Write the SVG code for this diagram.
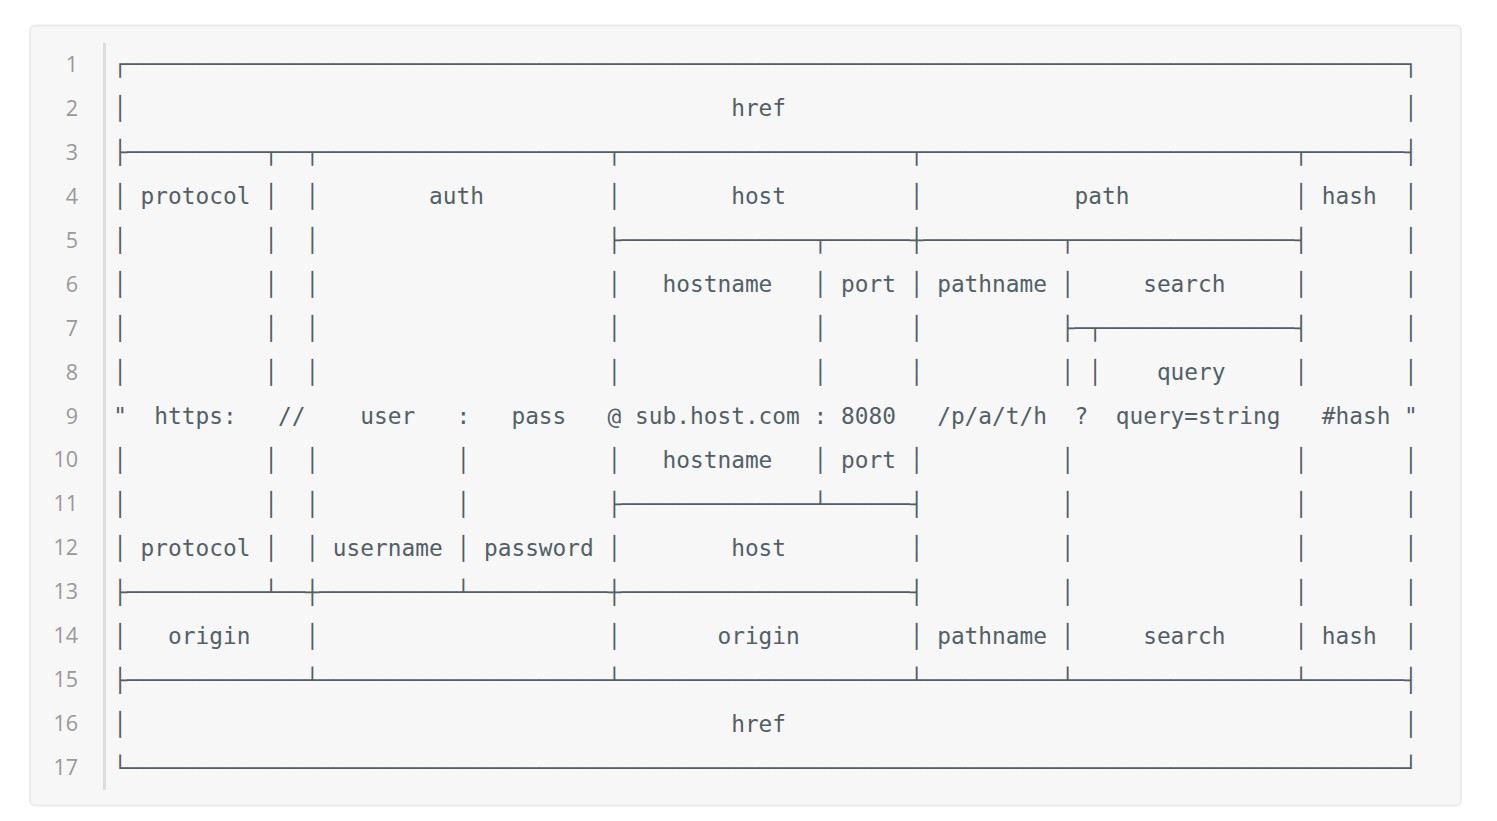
<svg xmlns="http://www.w3.org/2000/svg" width="1497" height="821" viewBox="0 0 1497 821">
<style>
.code{font-family:"DejaVu Sans Mono","Liberation Mono",monospace;font-size:22.81px;fill:#525f67;white-space:pre}
.ln{font-family:"Open Sans","Liberation Sans",sans-serif;font-size:21.5px;fill:#999999;text-anchor:end}
</style>
<rect x="0" y="0" width="1497" height="821" fill="#ffffff"/>
<g id="block">
<rect x="30" y="25.5" width="1431" height="780" rx="5" ry="5" fill="#f7f7f7" stroke="#ebebeb" stroke-width="2"/>
<rect x="103" y="43" width="3" height="747" fill="#dddddd"/>
</g>
<g id="line-numbers">
<text class="ln" x="78" y="72">1</text>
<text class="ln" x="78" y="116">2</text>
<text class="ln" x="78" y="160">3</text>
<text class="ln" x="78" y="204">4</text>
<text class="ln" x="78" y="248">5</text>
<text class="ln" x="78" y="292">6</text>
<text class="ln" x="78" y="336">7</text>
<text class="ln" x="78" y="380">8</text>
<text class="ln" x="78" y="424">9</text>
<text class="ln" x="78" y="467">10</text>
<text class="ln" x="78" y="511">11</text>
<text class="ln" x="78" y="555">12</text>
<text class="ln" x="78" y="599">13</text>
<text class="ln" x="78" y="643">14</text>
<text class="ln" x="78" y="687">15</text>
<text class="ln" x="78" y="731">16</text>
<text class="ln" x="78" y="775">17</text>
</g>
<g id="code" xml:space="preserve">
<text class="code" x="113.13" y="71.9" textLength="1304.7" lengthAdjust="spacing">┌─────────────────────────────────────────────────────────────────────────────────────────────┐</text>
<text class="code" x="113.13" y="115.9" textLength="1304.7" lengthAdjust="spacing">│                                            href                                             │</text>
<text class="code" x="113.13" y="159.9" textLength="1304.7" lengthAdjust="spacing">├──────────┬──┬─────────────────────┬─────────────────────┬───────────────────────────┬───────┤</text>
<text class="code" x="113.13" y="203.9" textLength="1304.7" lengthAdjust="spacing">│ protocol │  │        auth         │        host         │           path            │ hash  │</text>
<text class="code" x="113.13" y="247.9" textLength="1304.7" lengthAdjust="spacing">│          │  │                     ├──────────────┬──────┼──────────┬────────────────┤       │</text>
<text class="code" x="113.13" y="291.9" textLength="1304.7" lengthAdjust="spacing">│          │  │                     │   hostname   │ port │ pathname │     search     │       │</text>
<text class="code" x="113.13" y="335.9" textLength="1304.7" lengthAdjust="spacing">│          │  │                     │              │      │          ├─┬──────────────┤       │</text>
<text class="code" x="113.13" y="379.9" textLength="1304.7" lengthAdjust="spacing">│          │  │                     │              │      │          │ │    query     │       │</text>
<text class="code" x="113.13" y="423.9" textLength="1304.7" lengthAdjust="spacing">"  https:   //    user   :   pass   @ sub.host.com : 8080   /p/a/t/h  ?  query=string   #hash "</text>
<text class="code" x="113.13" y="467.9" textLength="1304.7" lengthAdjust="spacing">│          │  │          │          │   hostname   │ port │          │                │       │</text>
<text class="code" x="113.13" y="511.9" textLength="1304.7" lengthAdjust="spacing">│          │  │          │          ├──────────────┴──────┤          │                │       │</text>
<text class="code" x="113.13" y="555.9" textLength="1304.7" lengthAdjust="spacing">│ protocol │  │ username │ password │        host         │          │                │       │</text>
<text class="code" x="113.13" y="599.9" textLength="1304.7" lengthAdjust="spacing">├──────────┴──┼──────────┴──────────┼─────────────────────┤          │                │       │</text>
<text class="code" x="113.13" y="643.9" textLength="1304.7" lengthAdjust="spacing">│   origin    │                     │       origin        │ pathname │     search     │ hash  │</text>
<text class="code" x="113.13" y="687.9" textLength="1304.7" lengthAdjust="spacing">├─────────────┴─────────────────────┴─────────────────────┴──────────┴────────────────┴───────┤</text>
<text class="code" x="113.13" y="731.9" textLength="1304.7" lengthAdjust="spacing">│                                            href                                             │</text>
<text class="code" x="113.13" y="775.9" textLength="1304.7" lengthAdjust="spacing">└─────────────────────────────────────────────────────────────────────────────────────────────┘</text>
</g>
</svg>
